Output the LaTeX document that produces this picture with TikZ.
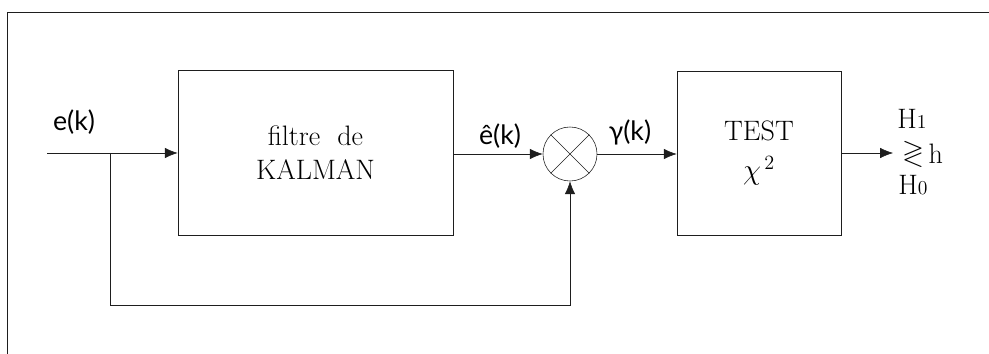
\documentclass[tikz,border=0pt]{standalone}
\usepackage{amsmath,amssymb}
\usepackage{fontspec}
\newfontfamily\lblfont{Lato}
\usetikzlibrary{arrows.meta,positioning,calc}
\definecolor{ink}{RGB}{30,30,30}
\tikzset{
  blk/.style={draw=ink,inner sep=0pt,align=center,font=\fontsize{20}{24}\selectfont},
  sumnd/.style={circle,draw=ink,minimum size=1.35cm,inner sep=0pt},
  arr/.style={-{Latex[length=3.2mm,width=2.6mm]},ink},
  lbl/.style={font=\fontsize{19}{23}\selectfont\lblfont,inner sep=1pt},
  hyp/.style={font=\fontsize{20}{24}\selectfont,inner sep=0pt},
}
\begin{document}
\begin{tikzpicture}[x=0.025cm,y=-0.025cm]
\useasboundingbox (0,0) rectangle (989,354);
% frame (cut off at right and bottom)
\draw[ink] (989,12) -- (7,12) -- (7,354);
% blocks
\node[blk,minimum width=6.875cm,minimum height=4.125cm] (kal) at (315.5,152.5)
  {filtre\ \ de\\ KALMAN};
\node[sumnd] (sum) at (570,154) {};
\draw[ink] (sum.45) -- (sum.225) (sum.135) -- (sum.315);
\node[blk,minimum width=4.1cm,minimum height=4.1cm] (test) at (759,153)
  {TEST\\[4pt] $\chi^{\,2}$};
% input and feedback
\coordinate (in) at (47,153);
\coordinate (br) at (110,153);
\coordinate (fb) at (570,305);
\coordinate (out) at (893,153);
\draw[ink] (in) -- (br);
\draw[arr] (br) -- (kal.west |- br);
\draw[arr] (br) |- (fb) -- (sum.south);
\draw[arr] (kal.east |- sum) -- (sum.west);
\draw[arr] (sum.east) -- (test.west |- sum);
\draw[arr] (test.east |- out) -- (out);
% labels
\node[lbl] (lin) at (74,122) {e(k)};
\node[lbl] (lhat) at (500,136) {ê(k)};
\node[lbl] (lgam) at (630,132) {γ(k)};
\node[hyp] (hone) at (912,119) {H{\fontsize{14}{16}\selectfont 1}};
\node[hyp] (grl) at (913,154) {$\gtrless$};
\node[hyp,right=3pt of grl] (thr) {h};
\node[hyp] (hzero) at (913,185) {H{\fontsize{14}{16}\selectfont 0}};
\end{tikzpicture}
\end{document}
